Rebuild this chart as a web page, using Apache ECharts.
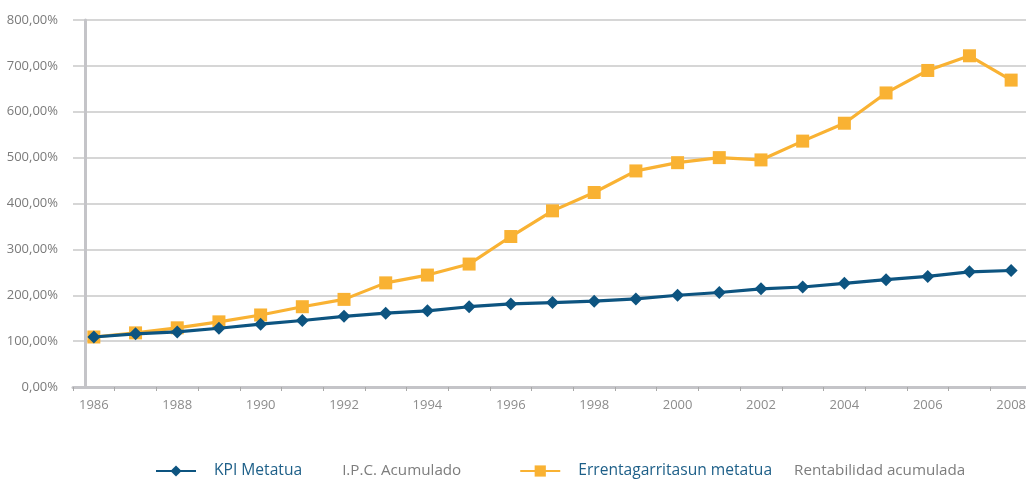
<!DOCTYPE html>
<html>
<head>
<meta charset="utf-8">
<script src="https://cdn.jsdelivr.net/npm/echarts@6/dist/echarts.min.js"></script>
<style>html,body{margin:0;padding:0;background:#fff;overflow:hidden;}#c{width:1032px;height:479px;}</style>
</head>
<body>
<div id="c"></div>
<script>
const years = ['1986','1987','1988','1989','1990','1991','1992','1993','1994','1995','1996','1997','1998','1999','2000','2001','2002','2003','2004','2005','2006','2007','2008'];
const kpiName = 'KPI Metatua';
const kpiSubName = 'I.P.C. Acumulado';
const kpiValues = [109,116,120,128,137,145,154,161,166,175,181,184,187,192,200,206,214,218,226,234,241,251,254];
const rentName = 'Errentagarritasun metatua';
const rentSubName = 'Rentabilidad acumulada';
const rentValues = [109,118,129,142,157,175,191,227,244,268,328,384,424,471,489,500,495,536,575,641,690,722,669];

const chart = echarts.init(document.getElementById('c'));
const FONT = 'Open Sans';
chart.setOption({
  animation: false,
  grid: {left: 73, top: 20, right: 0, height: 367, containLabel: false},
  xAxis: {
    type: 'category',
    data: years,
    boundaryGap: true,
    axisLine: {lineStyle: {color: '#c4c4c8', width: 3}},
    axisTick: {show: true, interval: 0, length: 4, lineStyle: {color: '#a8a8a8', width: 1}},
    axisLabel: {interval: 1, color: '#8c8c8c', fontSize: 13, fontFamily: FONT, margin: 12},
    splitLine: {show: false}
  },
  yAxis: {
    type: 'value',
    min: 0, max: 800, interval: 100,
    offset: -12,
    axisLine: {show: true, lineStyle: {color: '#c4c4c8', width: 3}},
    axisTick: {show: false},
    axisLabel: {color: '#7a7a7a', fontSize: 13, fontFamily: FONT, margin: 27,
      formatter: v => v.toFixed(2).replace('.', ',') + '%'},
    splitLine: {lineStyle: {color: '#c8c8c8', width: 1.5}}
  },
  legend: {
    left: 150, top: 458,
    itemWidth: 40, itemHeight: 14, itemGap: 58,
    data: [kpiName, rentName],
    formatter: name => name === kpiName
      ? '{a|' + kpiName + '}{g|' + kpiSubName + '}'
      : '{a|' + rentName + '}{h|' + rentSubName + '}',
    textStyle: {
      rich: {
        a: {color: '#1d5f88', fontSize: 15.6, fontFamily: FONT, padding: [0, 0, 0, 13]},
        g: {color: '#7d7d7d', fontSize: 15.2, fontFamily: FONT, padding: [0, 0, 0, 40]},
        h: {color: '#7d7d7d', fontSize: 15.2, fontFamily: FONT, padding: [0, 0, 0, 22]}
      }
    }
  },
  series: [
    {
      name: kpiName, type: 'line', data: kpiValues,
      symbol: 'diamond', symbolSize: 13,
      lineStyle: {color: '#0d5480', width: 3.2},
      itemStyle: {color: '#0d5480'},
      z: 3
    },
    {
      name: rentName, type: 'line', data: rentValues,
      symbol: 'rect', symbolSize: 13,
      lineStyle: {color: '#f9b233', width: 3.2},
      itemStyle: {color: '#f9b233'},
      z: 2
    }
  ]
});
</script>
</body>
</html>
